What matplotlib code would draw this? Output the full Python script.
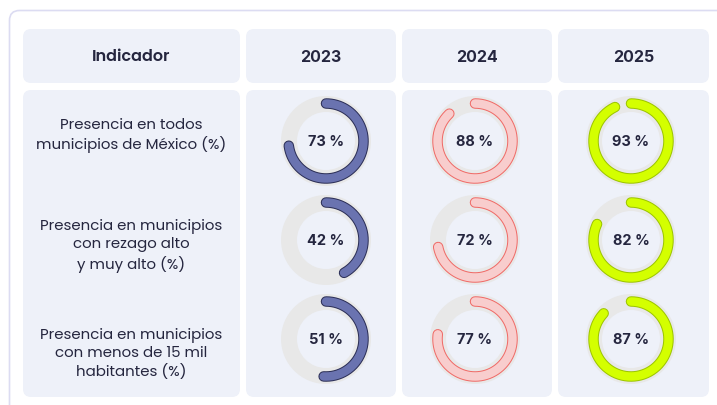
import numpy as np
import matplotlib.pyplot as plt
from matplotlib.patches import FancyBboxPatch, Wedge
import matplotlib.patheffects as pe

years = ["2023", "2024", "2025"]
indicators = [
    "Presencia en todos\nmunicipios de México (%)",
    "Presencia en municipios\ncon rezago alto\ny muy alto (%)",
    "Presencia en municipios\ncon menos de 15 mil\nhabitantes (%)",
]
values = {
    "2023": [73, 42, 51],
    "2024": [88, 72, 77],
    "2025": [93, 82, 87],
}
fills = {"2023": "#6a73b0", "2024": "#f8cdcd", "2025": "#d4ff00"}
edges = {"2023": "#2b2e55", "2024": "#f06a66", "2025": "#9cc400"}

W, H = 717, 406
CELL = "#eef1f9"
INK = "#25263f"

fig = plt.figure(figsize=(W / 100, H / 100), dpi=100)
ax = fig.add_axes([0, 0, 1, 1])
ax.set_xlim(0, W)
ax.set_ylim(H, 0)
ax.axis("off")


def card(x0, y0, x1, y1, fc, ec="none", lw=0, r=8):
    ax.add_patch(FancyBboxPatch((x0 + r, y0 + r), x1 - x0 - 2 * r, y1 - y0 - 2 * r,
                                boxstyle=f"round,pad={r}", fc=fc, ec=ec, lw=lw))


# outer panel running off the right and bottom edges
card(9.5, 11.5, 740, 440, "white", ec="#dcdcf2", lw=1.2, r=10)

cols = [(23, 240), (246, 396), (402, 552), (558, 709)]
ring_x = [326, 475, 631]
head_y = (30, 84)
body_y = (91, 398)
row_y = [142, 241, 340]
label_y = [135.5, 246, 354]

for x0, x1 in cols:
    card(x0, head_y[0], x1, head_y[1], CELL)
    card(x0, body_y[0], x1, body_y[1], CELL)

label_font = ["Poppins", "Open Sans", "DejaVu Sans"]
num_font = ["Inter", "DejaVu Sans"]

ax.text((cols[0][0] + cols[0][1]) / 2, 57, "Indicador", ha="center", va="center",
        fontsize=11.5, fontweight="semibold", color=INK, family=label_font)
for (x0, x1), year in zip(cols[1:], years):
    ax.text((x0 + x1) / 2, 57, year, ha="center", va="center",
            fontsize=11.5, fontweight="bold", color=INK, family=num_font)

for y, label in zip(label_y, indicators):
    ax.text((cols[0][0] + cols[0][1]) / 2, y, label, ha="center", va="center",
            fontsize=10.8, color=INK, family=label_font, linespacing=1.27)

R_OUT, R_TRACK = 45, 16
R_ARC, ARC_W = 37.5, 8.5
px = 72 / 100  # points per pixel

for cx, year in zip(ring_x, years):
    for y, v in zip(row_y, values[year]):
        ax.add_patch(Wedge((cx, y), R_OUT, 0, 360, width=R_TRACK, fc="#e8e8e8", ec="none"))
        # clockwise from 12 o'clock
        t = np.linspace(0, 2 * np.pi * v / 100, 200)
        ax.plot(cx + R_ARC * np.sin(t), y - R_ARC * np.cos(t),
                color=fills[year], lw=ARC_W * px, solid_capstyle="round",
                path_effects=[pe.Stroke(linewidth=(ARC_W + 2) * px, foreground=edges[year]),
                              pe.Normal()])
        ax.text(cx, y, f"{v} %", ha="center", va="center", fontsize=10.5,
                fontweight="bold", color=INK, family=num_font)

fig.savefig("out.png", dpi=100)
